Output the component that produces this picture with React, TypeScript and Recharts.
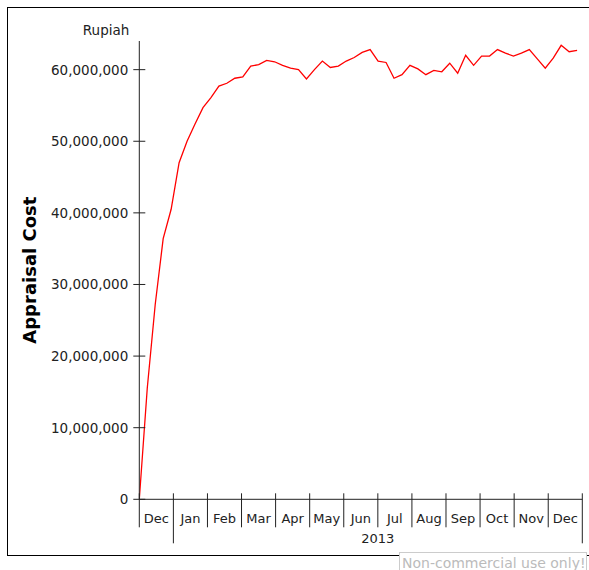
import { LineChart, Line, XAxis, YAxis, Label } from 'recharts';

// weekly appraisal cost, Dec 2012 - Dec 2013 (Rupiah)
const COST = [
  0, 15500000, 27200000, 36400000, 40500000, 47000000, 50000000, 52400000,
  54700000, 56100000, 57700000, 58100000, 58800000, 59000000, 60500000, 60700000,
  61300000, 61100000, 60600000, 60200000, 60000000, 58700000, 60000000, 61200000,
  60300000, 60500000, 61200000, 61700000, 62400000, 62800000, 61200000, 61000000,
  58800000, 59300000, 60600000, 60100000, 59300000, 59900000, 59700000, 60900000,
  59500000, 62000000, 60600000, 61900000, 61900000, 62800000, 62300000, 61900000,
  62300000, 62800000, 61500000, 60200000, 61600000, 63400000, 62500000, 62700000,
];

const MONTHS = ['Dec', 'Jan', 'Feb', 'Mar', 'Apr', 'May', 'Jun', 'Jul', 'Aug', 'Sep', 'Oct', 'Nov', 'Dec'];
const YEAR = '2013';
const Y_TICKS = [0, 10000000, 20000000, 30000000, 40000000, 50000000, 60000000];
const Y_MAX = 64000000;
const WEEKS_PER_MONTH = 4.281;

const W = 589;
const H = 570;
const MARGIN = { top: 41, right: 6.7, bottom: 0, left: 0 };
const Y_AXIS_W = 139.3;
const X_AXIS_H = 70.7;
const MONTH_PX = (W - MARGIN.right - Y_AXIS_W) / MONTHS.length;

const FONT = '"DejaVu Sans", Verdana, sans-serif';
const INK = '#222';

const data = COST.map((cost, week) => ({ week, cost }));
const monthTicks = [...MONTHS, ''].map((_, i) => i * WEEKS_PER_MONTH);

const fmt = (v: number) => v.toLocaleString('en-US');

function YTick(props: any) {
  const { x, y, payload } = props;
  return (
    <g>
      <line x1={x - 6} x2={x + 6} y1={y} y2={y} stroke={INK} />
      <text x={x - 11} y={y} dy="0.36em" textAnchor="end" fontSize={13.5} fontFamily={FONT} fill={INK}>
        {fmt(payload.value)}
      </text>
    </g>
  );
}

function XTick(props: any) {
  const { x, y, index } = props;
  const yearEdge = index === 1 || index === MONTHS.length;
  return (
    <g>
      <line x1={x} x2={x} y1={y - 6} y2={y + (yearEdge ? 44 : 28)} stroke={INK} />
      {index < MONTHS.length && (
        <text x={x + MONTH_PX / 2} y={y + 24} textAnchor="middle" fontSize={13} fontFamily={FONT} fill={INK}>
          {MONTHS[index]}
        </text>
      )}
      {index === 1 && (
        <text x={x + MONTH_PX * 6} y={y + 44} textAnchor="middle" fontSize={13} fontFamily={FONT} fill={INK}>
          {YEAR}
        </text>
      )}
    </g>
  );
}

function AxisTitles(props: any) {
  const { x, y, width, height } = props.viewBox;
  return (
    <g>
      <text x={x + width - 10} y={y - 6} textAnchor="end" fontSize={13.5} fontFamily={FONT} fill={INK}>
        Rupiah
      </text>
      <text
        x={x + 30}
        y={y + height / 2}
        transform={`rotate(-90 ${x + 30} ${y + height / 2})`}
        textAnchor="middle"
        dominantBaseline="central"
        fontSize={18}
        fontWeight="bold"
        fontFamily={FONT}
        fill="#000"
      >
        Appraisal Cost
      </text>
    </g>
  );
}

export default function App() {
  return (
    <div style={{ position: 'absolute', left: 0, top: 0, width: W, height: H, background: '#fff', overflow: 'hidden' }}>
      <div
        style={{
          position: 'absolute',
          left: 7,
          top: 7,
          width: W,
          height: 549,
          border: '1px solid #000',
          boxSizing: 'border-box',
        }}
      />
      <div style={{ position: 'absolute', left: 0, top: 0 }}>
        <LineChart width={W} height={H} data={data} margin={MARGIN}>
          <XAxis
            type="number"
            dataKey="week"
            domain={[0, MONTHS.length * WEEKS_PER_MONTH]}
            ticks={monthTicks}
            interval={0}
            height={X_AXIS_H}
            tickSize={0}
            tickMargin={0}
            tick={<XTick />}
            axisLine={{ stroke: INK }}
            allowDataOverflow
          />
          <YAxis
            type="number"
            domain={[0, Y_MAX]}
            ticks={Y_TICKS}
            width={Y_AXIS_W}
            tickSize={0}
            tickMargin={0}
            tick={<YTick />}
            axisLine={{ stroke: INK }}
            allowDataOverflow
          >
            <Label content={<AxisTitles />} />
          </YAxis>
          <Line
            dataKey="cost"
            type="linear"
            stroke="#ff0000"
            strokeWidth={1.3}
            dot={false}
            isAnimationActive={false}
          />
        </LineChart>
      </div>
      <div
        style={{
          position: 'absolute',
          left: 399,
          top: 552,
          width: 188,
          height: 30,
          border: '1px solid #ccc',
          background: '#fff',
          color: '#bbb',
          fontFamily: FONT,
          fontSize: 14,
          lineHeight: '20px',
          paddingLeft: 2,
          boxSizing: 'border-box',
          whiteSpace: 'nowrap',
          overflow: 'hidden',
        }}
      >
        Non-commercial use only!
      </div>
    </div>
  );
}
